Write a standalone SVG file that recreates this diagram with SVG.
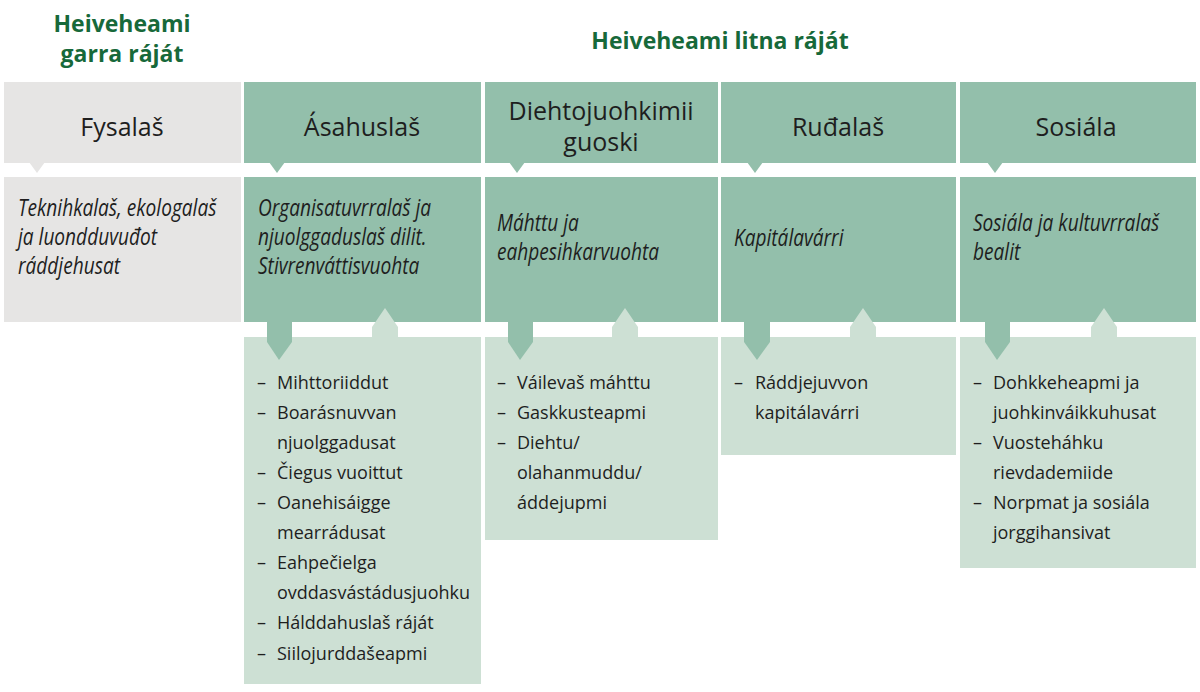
<svg xmlns="http://www.w3.org/2000/svg" width="1200" height="692" viewBox="0 0 1200 692">
<style>
.t{font-family:"Open Sans","Liberation Sans",sans-serif;fill:#1e1e1e}
.h{font-size:25px;text-anchor:middle}
.i{font-size:23px;font-style:italic}
.l{font-size:18px}
.g{font-family:"Open Sans","Liberation Sans",sans-serif;font-weight:bold;font-size:23px;fill:#17693a;text-anchor:middle}
.gr{fill:#e6e5e4}.gn{fill:#93bfab}.lt{fill:#cde0d4}
</style>
<rect width="1200" height="692" fill="#fff"/>
<text class="g" x="122" y="32">Heiveheami</text>
<text class="g" x="122" y="62">garra ráját</text>
<text class="g" x="720" y="49">Heiveheami litna ráját</text>

<g id="fysalas">
<rect class="gr" x="4" y="82" width="237" height="81"/>
<polygon class="gr" points="29,162 45,162 37,173"/>
<text class="t h" x="122" y="136">Fysalaš</text>
<rect class="gr" x="4" y="177" width="237" height="145"/>
<g transform="translate(18,216) scale(0.83,1)"><text class="t i"><tspan x="0" y="0">Teknihkalaš, ekologalaš</tspan><tspan x="0" y="29">ja luondduvuđot</tspan><tspan x="0" y="58">ráddjehusat</tspan></text></g>
</g>

<g id="asahuslas">
<rect class="gn" x="244" y="82" width="237" height="81"/>
<polygon class="gn" points="269,162 285,162 277,173"/>
<text class="t h" x="362" y="136">Ásahuslaš</text>
<rect class="lt" x="244" y="337" width="237" height="347"/>
<rect class="gn" x="244" y="177" width="237" height="145"/>
<polygon class="lt" points="372,327 385,308 398,327 398,338 372,338"/>
<polygon class="gn" points="267,321 292,321 292,342 279,360 267,342"/>
<g transform="translate(258,216) scale(0.83,1)"><text class="t i"><tspan x="0" y="0">Organisatuvrralaš ja</tspan><tspan x="0" y="29">njuolggaduslaš dilit.</tspan><tspan x="0" y="58">Stivrenváttisvuohta</tspan></text></g>
<text class="t l"><tspan x="257" y="389">–</tspan><tspan x="277" y="389">Mihttoriiddut</tspan><tspan x="257" y="419">–</tspan><tspan x="277" y="419">Boarásnuvvan</tspan><tspan x="277" y="449">njuolggadusat</tspan><tspan x="257" y="479">–</tspan><tspan x="277" y="479">Čiegus vuoittut</tspan><tspan x="257" y="509">–</tspan><tspan x="277" y="509">Oanehisáigge</tspan><tspan x="277" y="539">mearrádusat</tspan><tspan x="257" y="569">–</tspan><tspan x="277" y="569">Eahpečielga</tspan><tspan x="277" y="599">ovddasvástádusjuohku</tspan><tspan x="257" y="629">–</tspan><tspan x="277" y="629">Hálddahuslaš ráját</tspan><tspan x="257" y="660">–</tspan><tspan x="277" y="660">Siilojurddašeapmi</tspan></text>
</g>

<g id="diehtojuohkimii">
<rect class="gn" x="485" y="82" width="233" height="81"/>
<polygon class="gn" points="509,162 525,162 517,173"/>
<text class="t h" x="601" y="120">Diehtojuohkimii</text>
<text class="t h" x="601" y="151">guoski</text>
<rect class="lt" x="485" y="337" width="233" height="203"/>
<rect class="gn" x="485" y="177" width="233" height="145"/>
<polygon class="lt" points="612,327 625,308 638,327 638,338 612,338"/>
<polygon class="gn" points="508,321 533,321 533,342 520,360 508,342"/>
<g transform="translate(497,231) scale(0.83,1)"><text class="t i"><tspan x="0" y="0">Máhttu ja</tspan><tspan x="0" y="29">eahpesihkarvuohta</tspan></text></g>
<text class="t l"><tspan x="497" y="389">–</tspan><tspan x="517" y="389">Váilevaš máhttu</tspan><tspan x="497" y="419">–</tspan><tspan x="517" y="419">Gaskkusteapmi</tspan><tspan x="497" y="449">–</tspan><tspan x="517" y="449">Diehtu/</tspan><tspan x="517" y="479">olahanmuddu/</tspan><tspan x="517" y="509">áddejupmi</tspan></text>
</g>

<g id="rudalas">
<rect class="gn" x="721" y="82" width="235" height="81"/>
<polygon class="gn" points="747,162 763,162 755,173"/>
<text class="t h" x="838" y="136">Ruđalaš</text>
<rect class="lt" x="721" y="337" width="235" height="118"/>
<rect class="gn" x="721" y="177" width="235" height="145"/>
<polygon class="lt" points="850,327 863,308 876,327 876,338 850,338"/>
<polygon class="gn" points="744,321 770,321 770,342 757,360 744,342"/>
<g transform="translate(734,246) scale(0.83,1)"><text class="t i"><tspan x="0" y="0">Kapitálavárri</tspan></text></g>
<text class="t l"><tspan x="734" y="389">–</tspan><tspan x="755" y="389">Ráddjejuvvon</tspan><tspan x="755" y="419">kapitálavárri</tspan></text>
</g>

<g id="sosiala">
<rect class="gn" x="960" y="82" width="236" height="81"/>
<polygon class="gn" points="987,162 1003,162 995,173"/>
<text class="t h" x="1076" y="136">Sosiála</text>
<rect class="lt" x="960" y="337" width="236" height="231"/>
<rect class="gn" x="960" y="177" width="236" height="145"/>
<polygon class="lt" points="1091,327 1104,308 1117,327 1117,338 1091,338"/>
<polygon class="gn" points="985,321 1010,321 1010,342 997,360 985,342"/>
<g transform="translate(973,231) scale(0.83,1)"><text class="t i"><tspan x="0" y="0">Sosiála ja kultuvrralaš</tspan><tspan x="0" y="29">bealit</tspan></text></g>
<text class="t l"><tspan x="973" y="389">–</tspan><tspan x="993" y="389">Dohkkeheapmi ja</tspan><tspan x="993" y="419">juohkinváikkuhusat</tspan><tspan x="973" y="449">–</tspan><tspan x="993" y="449">Vuosteháhku</tspan><tspan x="993" y="479">rievdademiide</tspan><tspan x="973" y="509">–</tspan><tspan x="993" y="509">Norpmat ja sosiála</tspan><tspan x="993" y="539">jorggihansivat</tspan></text>
</g>
<g id="connectors"></g>
</svg>
